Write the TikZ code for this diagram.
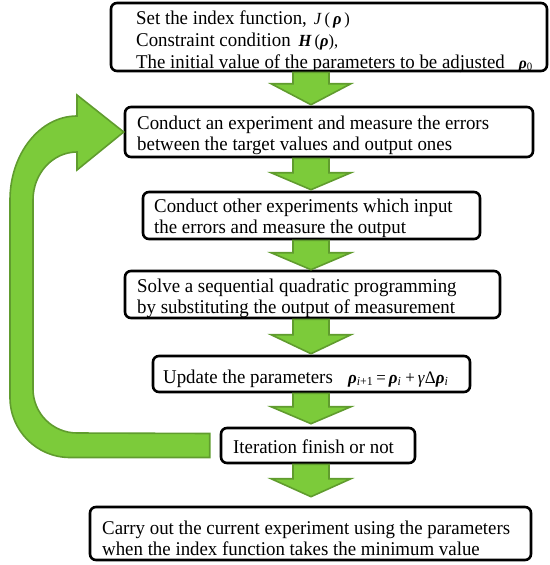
\documentclass[tikz,border=0pt]{standalone}
\usepackage{fontspec}
\setmainfont[FakeStretch=0.967]{Liberation Serif}
\usetikzlibrary{calc}
\definecolor{gfill}{RGB}{124,203,58}
\definecolor{gline}{RGB}{96,156,46}
\newcommand\brho{\textbf{\textit{ρ}}}
\newcommand\blockdown[4]{% from, to, head length, gap
  \path[garrow] let \p1=(#1.south), \p2=(#2.north) in
    (293pt,\y1) -- (329pt,\y1) -- (329pt,\y2+#4+#3) -- (351pt,\y2+#4+#3)
    -- (311pt,\y2+#4) -- (271pt,\y2+#4+#3) -- (293pt,\y2+#4+#3) -- cycle;
}
\begin{document}
\begin{tikzpicture}[x=1pt,y=-1pt,
  box/.style={draw=black, line width=2.6pt, rounded corners=6pt, inner sep=0pt, fill=white},
  txt/.style={anchor=base west, inner sep=0pt, font=\fontsize{19.5}{22}\selectfont},
  mth/.style={font=\fontsize{17.5}{18}\selectfont},
  garrow/.style={fill=gfill, draw=gline, line width=1.6pt, line join=miter}]
\useasboundingbox (0,0) rectangle (549,565);

% boxes
\node[box, minimum width=436pt, minimum height=68pt] (b1) at (329,37) {};
\node[box, minimum width=408pt, minimum height=50pt] (b2) at (329,132) {};
\node[box, minimum width=337pt, minimum height=47pt] (b3) at (311.5,215.5) {};
\node[box, minimum width=375pt, minimum height=47pt] (b4) at (312.5,294.5) {};
\node[box, minimum width=317pt, minimum height=36pt] (b5) at (311.5,374) {};
\node[box, minimum width=194pt, minimum height=35pt] (it) at (318,445.5) {};
\node[box, minimum width=441pt, minimum height=53pt] (fin) at (310.5,533.5) {};

% texts
\node[txt] (t1a) at (136,24) {Set the index function,\hspace{7pt}{\fontsize{17}{18}\selectfont\textit{J}\,(\,\brho\,)}};
\node[txt] (t1b) at (136,46.5) {Constraint condition\hspace{8pt}{\fontsize{17}{18}\selectfont\textbf{\textit{H}}\,(\brho),}};
\node[txt] (t1c) at (136,68) {The initial value of the parameters to be adjusted\hspace{14pt}{\fontsize{16}{18}\selectfont\brho\textsubscript{0}}};

\node[txt] (t2a) at (137,129) {Conduct an experiment and measure the errors};
\node[txt] (t2b) at (137,150) {between the target values and output ones};

\node[txt] (t3a) at (154,212) {Conduct other experiments which input};
\node[txt] (t3b) at (154,233) {the errors and measure the output};

\node[txt] (t4a) at (137,292) {Solve a sequential quadratic programming};
\node[txt] (t4b) at (137,313) {by substituting the output of measurement};

\node[txt] (t5a) at (163,383) {Update the parameters};
\node[txt, mth] (t5b) at (348,383) {\brho\textsubscript{\textit{i}+1}\hspace{3pt}=\hspace{3pt}\brho\textsubscript{\textit{i}}\hspace{4pt}+\hspace{3pt}\textit{γ}Δ\brho\textsubscript{\textit{i}}};

\node[txt] (t6) at (233,453) {Iteration finish or not};

\node[txt] (t7a) at (102,534) {Carry out the current experiment using the parameters};
\node[txt] (t7b) at (102,555) {when the index function takes the minimum value};

% down arrows
\blockdown{b1}{b2}{21pt}{1pt}
\blockdown{b2}{b3}{17pt}{1pt}
\blockdown{b3}{b4}{17pt}{0pt}
\blockdown{b4}{b5}{19pt}{1pt}
\blockdown{b5}{it}{17pt}{3pt}
\blockdown{it}{fin}{18pt}{9pt}

% loop arrow
\path[garrow] (b2.west) -- (77,170) -- (77,152)
  arc[start angle=270, end angle=180, x radius=44, y radius=48]
  -- (33,389)
  arc[start angle=180, end angle=90, radius=44]
  -- ($(it.west)+(-10,-12)$) -- ($(it.west)+(-10,12)$) -- (70,457.5)
  arc[start angle=90, end angle=180, radius=60]
  -- (10,200)
  arc[start angle=180, end angle=270, x radius=67, y radius=84]
  -- (77,95) -- cycle;
\end{tikzpicture}
\end{document}
